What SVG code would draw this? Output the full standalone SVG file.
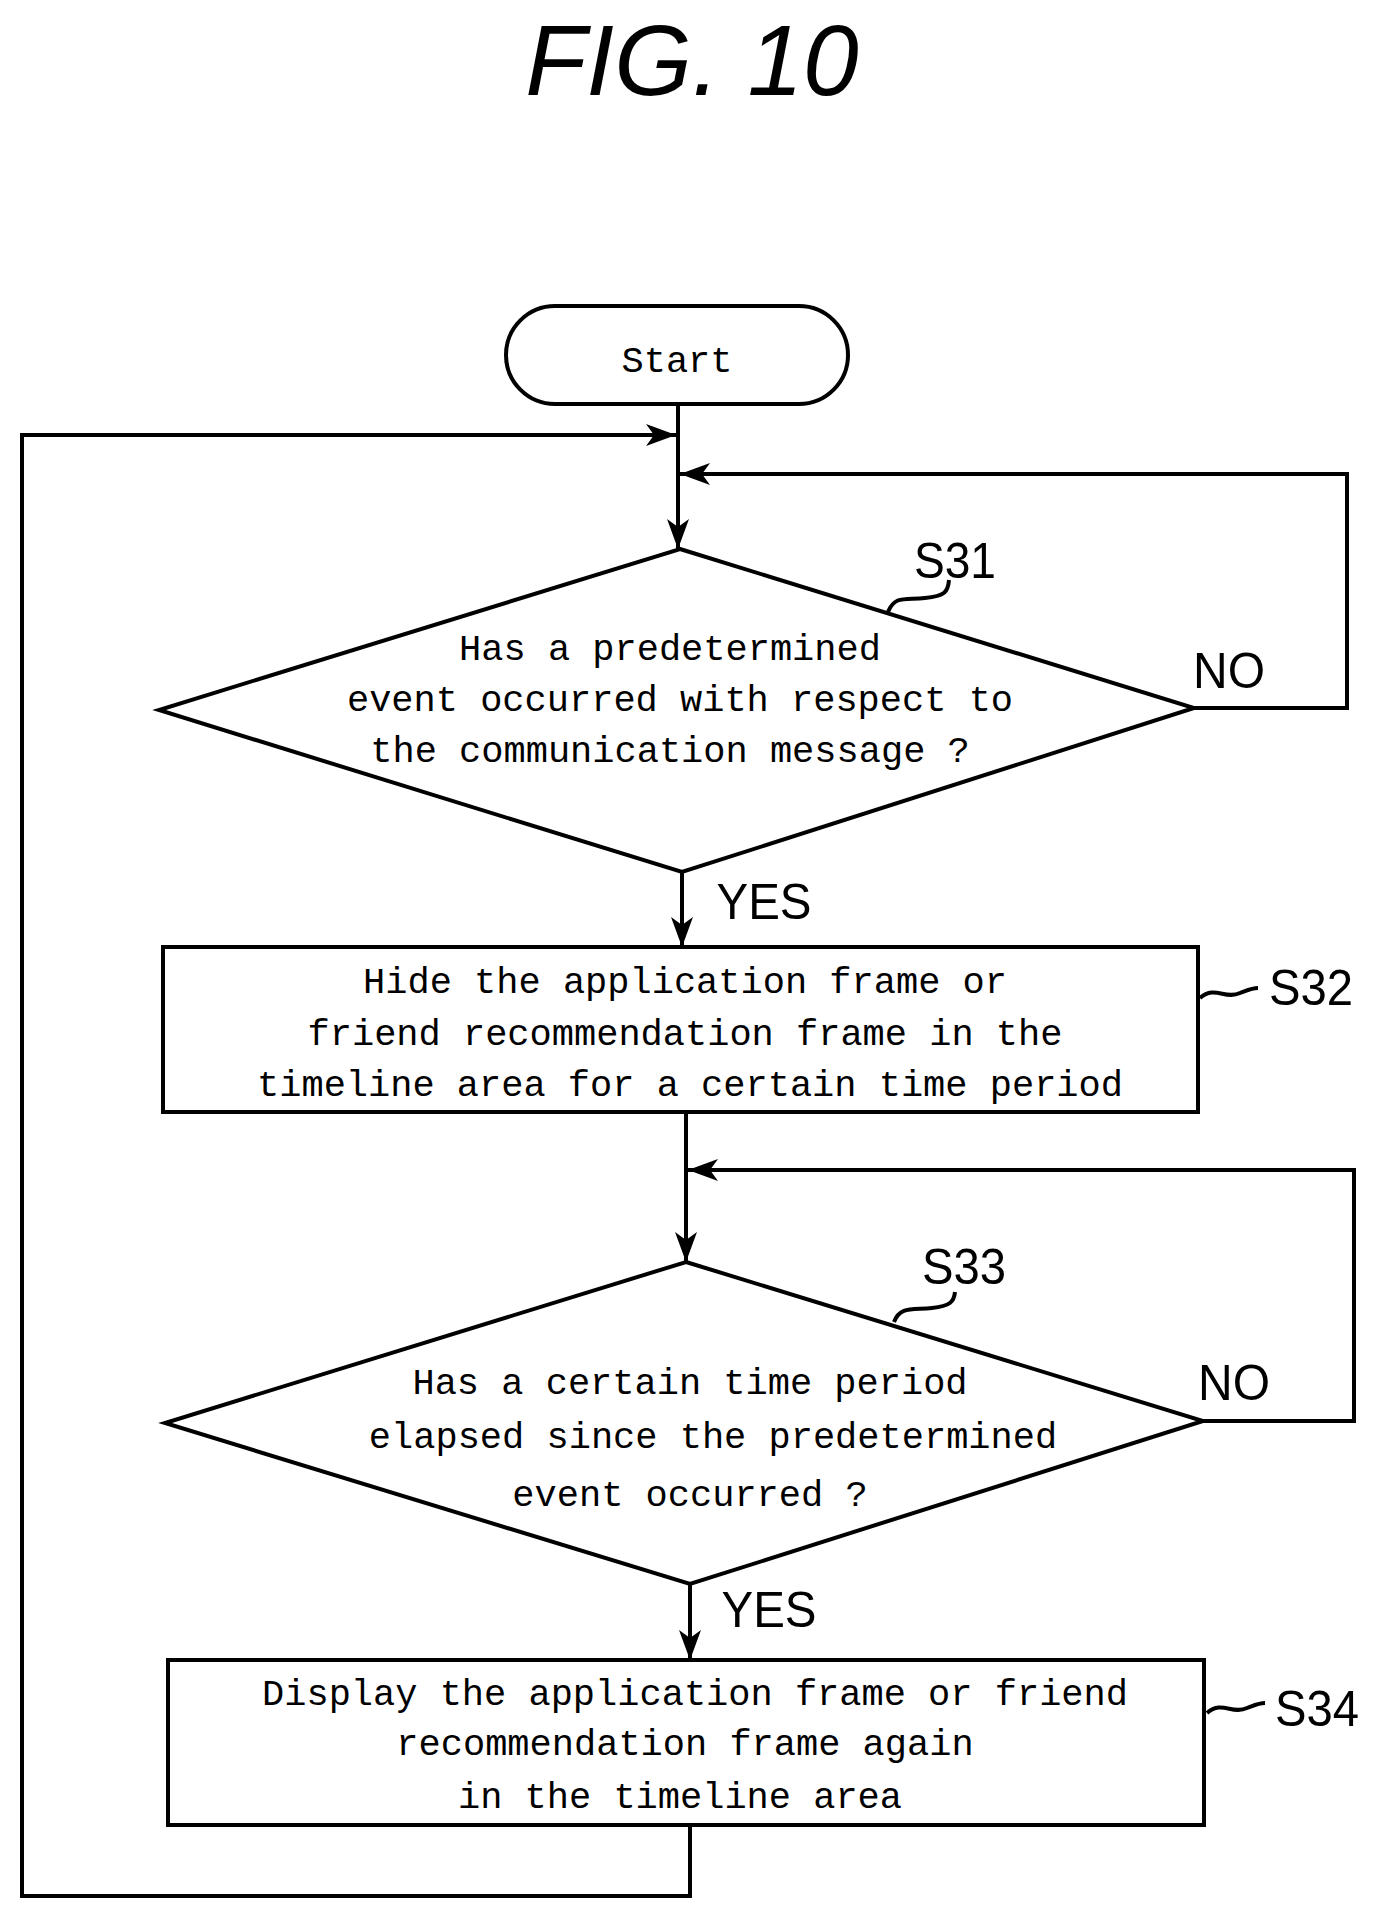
<svg xmlns="http://www.w3.org/2000/svg" width="1380" height="1921" viewBox="0 0 1380 1921">
<style>
.s{fill:none;stroke:#000;stroke-width:4}
.t{font-family:"Liberation Mono",monospace;font-size:37px;text-anchor:middle}
.l{font-family:"Liberation Sans",sans-serif;font-size:50px;text-anchor:middle}
</style>
<defs><marker id="a" markerWidth="30" markerHeight="22" refX="30" refY="11" orient="auto" markerUnits="userSpaceOnUse"><path d="M0,0 L30,11 L0,22 L8,11 Z"/></marker></defs>
<rect width="1380" height="1921" fill="#fff"/>
<text x="692" y="95" font-family="Liberation Sans,sans-serif" font-style="italic" font-size="100" text-anchor="middle">FIG. 10</text>
<g id="connectors" class="s">
<path d="M678,404 V549" marker-end="url(#a)"/>
<path d="M690,1825 V1896 H22 V435 H676" marker-end="url(#a)"/>
<path d="M1194,708 H1347 V474 H680" marker-end="url(#a)"/>
<path d="M682,872 V947" marker-end="url(#a)"/>
<path d="M686,1112 V1262" marker-end="url(#a)"/>
<path d="M1203,1421 H1354 V1170 H688" marker-end="url(#a)"/>
<path d="M690,1584 V1660" marker-end="url(#a)"/>
</g>
<g id="start"><rect x="506" y="306" width="342" height="98" rx="49" class="s"/><text class="t" x="677" y="372">Start</text></g>
<g id="S31">
<polygon points="680,549 1194,708 682,872 159,710" class="s"/>
<text class="t" x="670" y="660">Has a predetermined</text>
<text class="t" x="680" y="711">event occurred with respect to</text>
<text class="t" x="670" y="762">the communication message ?</text>
<text class="l" x="955" y="578" textLength="82" lengthAdjust="spacingAndGlyphs">S31</text>
<path d="M888,612 C895,595 905,600 925,598 C945,596 948,592 949,580" class="s" stroke-width="2"/>
<text class="l" x="1229" y="688" textLength="72" lengthAdjust="spacingAndGlyphs">NO</text>
<text class="l" x="764" y="919" textLength="95" lengthAdjust="spacingAndGlyphs">YES</text>
</g>
<g id="S32">
<rect x="163" y="947" width="1035" height="165" class="s"/>
<text class="t" x="685" y="993">Hide the application frame or</text>
<text class="t" x="685" y="1045">friend recommendation frame in the</text>
<text class="t" x="690" y="1096">timeline area for a certain time period</text>
<text class="l" x="1311" y="1005" textLength="84" lengthAdjust="spacingAndGlyphs">S32</text>
<path d="M1200,998 C1215,985 1225,1000 1240,993 C1248,990 1252,988 1258,988" class="s" stroke-width="2"/>
</g>
<g id="S33">
<polygon points="686,1262 1203,1421 690,1584 165,1423" class="s"/>
<text class="t" x="690" y="1394">Has a certain time period</text>
<text class="t" x="713" y="1448">elapsed since the predetermined</text>
<text class="t" x="690" y="1506">event occurred ?</text>
<text class="l" x="964" y="1284" textLength="84" lengthAdjust="spacingAndGlyphs">S33</text>
<path d="M894,1322 C900,1306 912,1310 932,1308 C950,1306 954,1302 955,1292" class="s" stroke-width="2"/>
<text class="l" x="1234" y="1400" textLength="72" lengthAdjust="spacingAndGlyphs">NO</text>
<text class="l" x="769" y="1627" textLength="95" lengthAdjust="spacingAndGlyphs">YES</text>
</g>
<g id="S34">
<rect x="168" y="1660" width="1036" height="165" class="s"/>
<text class="t" x="695" y="1705">Display the application frame or friend</text>
<text class="t" x="685" y="1755">recommendation frame again</text>
<text class="t" x="680" y="1808">in the timeline area</text>
<text class="l" x="1317" y="1726" textLength="84" lengthAdjust="spacingAndGlyphs">S34</text>
<path d="M1207,1713 C1222,1700 1232,1715 1247,1708 C1255,1705 1259,1703 1265,1703" class="s" stroke-width="2"/>
</g>
</svg>
